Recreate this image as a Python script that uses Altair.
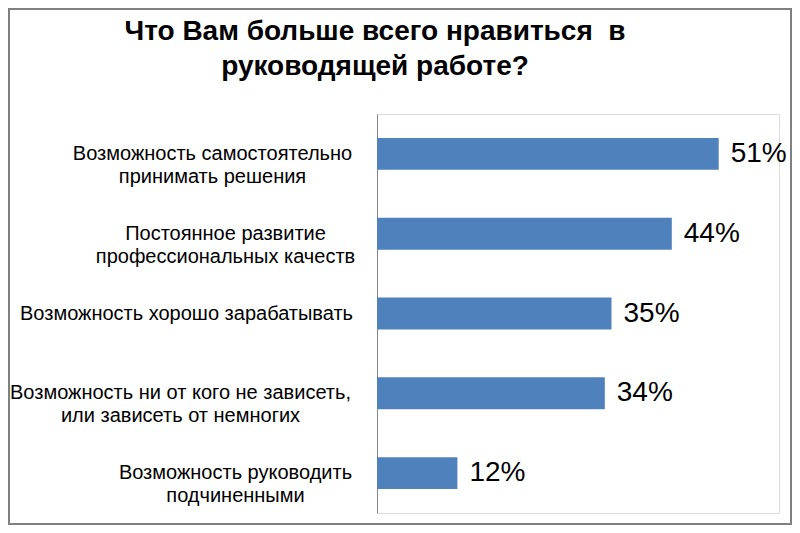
import altair as alt
import pandas as pd

# ---- data ----
title_lines = ["Что Вам больше всего нравиться\u00a0 в", "руководящей работе?"]
category_lines = [
    ["Возможность самостоятельно", "принимать решения"],
    ["Постоянное развитие", "профессиональных качеств"],
    ["Возможность хорошо зарабатывать"],
    ["Возможность ни от кого не зависеть,", "или зависеть от немногих"],
    ["Возможность руководить", "подчиненными"],
]
shares = [0.51, 0.44, 0.35, 0.34, 0.12]

categories = ["\n".join(lines) for lines in category_lines]
df = pd.DataFrame({"category": categories, "share": shares})

FONT = "Liberation Sans"
BLUE = "#4F81BD"

# label paddings so that each (centre-aligned) label block ends near the same x
pads = [165, 152, 191, 197, 142]
pad_expr = "[" + ",".join(str(p) for p in pads) + "][round(datum.index*4)]"

y_enc = alt.Y(
    "category:N",
    sort=categories,
    scale=alt.Scale(paddingInner=0.6, paddingOuter=0.3),
    axis=alt.Axis(
        title=None,
        ticks=False,
        grid=False,
        domainColor="#868686",
        domainWidth=1,
        labelFont=FONT,
        labelFontSize=20,
        labelLineHeight=23,
        labelColor="#000000",
        labelAlign="center",
        labelBaseline="middle",
        labelLimit=500,
        labelPadding=alt.ExprRef(pad_expr),
        labelExpr="split(datum.label, '\\n')",
    ),
)
x_enc = alt.X("share:Q", scale=alt.Scale(domain=[0, 0.6]), axis=None)

bars = alt.Chart(df).mark_bar(color=BLUE).encode(x=x_enc, y=y_enc)
labels = alt.Chart(df).mark_text(
    align="left", baseline="middle", dx=12, font=FONT, fontSize=28, color="#000000"
).encode(x=x_enc, y=y_enc, text=alt.Text("share:Q", format=".0%"))

frame = alt.Chart(alt.Data(values=[{}])).mark_rect(
    fill=None, stroke="#808080", strokeWidth=2
).encode(
    x=alt.value(-368), x2=alt.value(414), y=alt.value(-105), y2=alt.value(410)
)

chart = (
    alt.layer(bars, labels, frame)
    .properties(
        width=402,
        height=399,
        padding={"left": 369, "top": 106, "right": 13, "bottom": 12},
        autosize=alt.AutoSizeParams(type="none"),
        title=alt.TitleParams(
            text=title_lines,
            font=FONT,
            fontSize=28,
            fontWeight="bold",
            color="#000000",
            anchor="middle",
            frame="group",
            dx=-203,
            offset=-73,
            lineHeight=35,
        ),
    )
    .configure_view(stroke=None)
    .configure(background="white")
)

chart.save("out.html", embed_options={"renderer": "svg", "actions": False})
